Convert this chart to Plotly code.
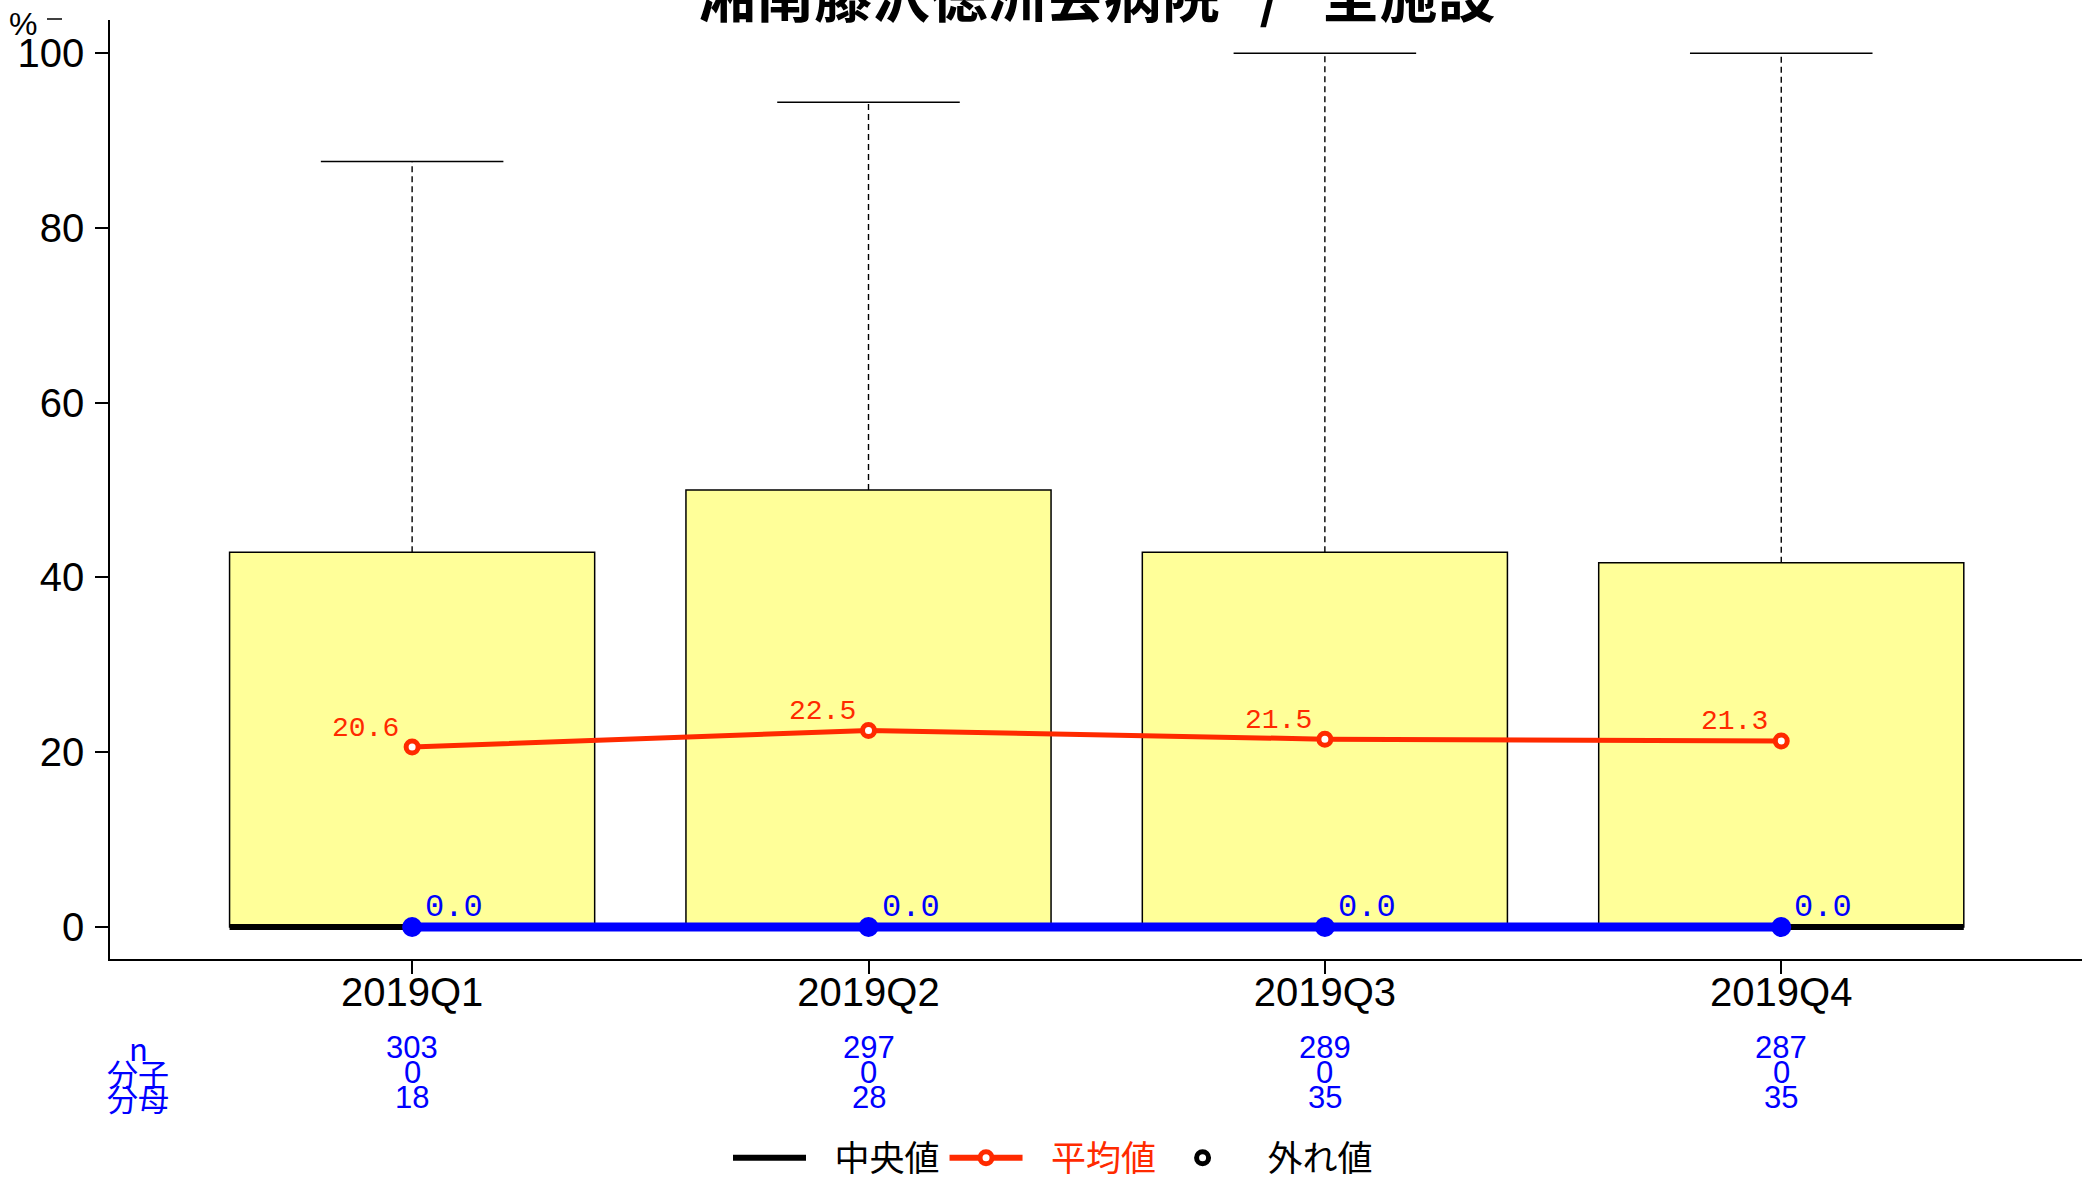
import plotly.graph_objects as go

# ---- data ----
categories = ["2019Q1", "2019Q2", "2019Q3", "2019Q4"]
box_q1 = [0, 0, 0, 0]
box_median = [0, 0, 0, 0]
box_q3 = [42.9, 50.0, 42.9, 41.7]
whisker_low = [0, 0, 0, 0]
whisker_high = [87.6, 94.4, 100, 100]
mean_values = [20.6, 22.5, 21.5, 21.3]
facility_values = [0.0, 0.0, 0.0, 0.0]
n_values = [303, 297, 289, 287]
numerators = [0, 0, 0, 0]
denominators = [18, 28, 35, 35]
y_ticks = [0, 20, 40, 60, 80, 100]
title_text = "湘南藤沢徳洲会病院&nbsp;&nbsp;&nbsp;/&nbsp;&nbsp;&nbsp;全施設"

W, H = 2089, 1180
ML, MR, MT, MB = 110, 7, 20, 221
PW, PH = W - ML - MR, H - MT - MB

def py(pix_y):
    return (H - MB - pix_y) / PH

def px(pix_x):
    return (pix_x - ML) / PW

SANS = "Liberation Sans, Arial, sans-serif"
MONO = "Liberation Mono, DejaVu Sans Mono, monospace"
CJK = "Noto Sans CJK JP, sans-serif"
RED = "#ff2a00"
BLUE = "#0000ff"

xs = list(range(len(categories)))
fig = go.Figure()

# boxes (whiskers drawn separately as dashed)
fig.add_trace(go.Box(
    x=xs, q1=box_q1, median=box_median, q3=box_q3,
    lowerfence=box_q1, upperfence=box_q3,
    width=0.8, whiskerwidth=0,
    fillcolor="#ffff99", line=dict(color="black", width=1.5),
    showlegend=False, hoverinfo="skip", boxpoints=False,
))

# dashed whiskers
wx, wy = [], []
for i in xs:
    wx += [i, i, None]
    wy += [box_q3[i], whisker_high[i], None]
fig.add_trace(go.Scatter(x=wx, y=wy, mode="lines",
                         line=dict(color="black", width=1.4, dash="6px,4px"),
                         showlegend=False, hoverinfo="skip"))
# caps
cx, cy = [], []
for i in xs:
    cx += [i - 0.2, i + 0.2, None]
    cy += [whisker_high[i], whisker_high[i], None]
fig.add_trace(go.Scatter(x=cx, y=cy, mode="lines",
                         line=dict(color="black", width=1.5),
                         showlegend=False, hoverinfo="skip"))
# medians (thick)
mx, my = [], []
for i in xs:
    mx += [i - 0.4, i + 0.4, None]
    my += [box_median[i], box_median[i], None]
fig.add_trace(go.Scatter(x=mx, y=my, mode="lines",
                         line=dict(color="black", width=6),
                         showlegend=False, hoverinfo="skip"))

# mean line
fig.add_trace(go.Scatter(
    x=xs, y=mean_values, mode="lines+markers",
    line=dict(color=RED, width=5),
    marker=dict(symbol="circle", size=12, color="white", line=dict(color=RED, width=5)),
    showlegend=False, hoverinfo="skip"))

# facility line
fig.add_trace(go.Scatter(
    x=xs, y=facility_values, mode="lines+markers",
    line=dict(color=BLUE, width=9),
    marker=dict(symbol="circle", size=20, color=BLUE),
    showlegend=False, hoverinfo="skip"))

# legend entries
NB = "&nbsp;"
fig.add_trace(go.Scatter(x=[None], y=[None], mode="lines", name=NB * 3 + "中央値",
                         line=dict(color="black", width=6)))
fig.add_trace(go.Scatter(x=[None], y=[None], mode="lines+markers",
                         name=NB * 3 + f"<span style='color:{RED}'>平均値</span>",
                         line=dict(color=RED, width=6),
                         marker=dict(symbol="circle", size=12, color="white",
                                     line=dict(color=RED, width=5))))
fig.add_trace(go.Scatter(x=[None], y=[None], mode="markers", name=NB * 3 + "外れ値",
                         marker=dict(symbol="circle", size=12, color="white",
                                     line=dict(color="black", width=5))))

annotations = []
# value labels
for i, v in enumerate(mean_values):
    annotations.append(dict(text=f"{v:.1f}", x=xs[i], y=v, xref="x", yref="y",
                            xanchor="right", yanchor="middle", xshift=-11, yshift=19,
                            showarrow=False, font=dict(family=MONO, size=28, color=RED)))
for i, v in enumerate(facility_values):
    annotations.append(dict(text=f"{v:.1f}", x=xs[i], y=v, xref="x", yref="y",
                            xanchor="left", yanchor="middle", xshift=11, yshift=20,
                            showarrow=False, font=dict(family=MONO, size=32, color=BLUE)))
# title
annotations.append(dict(text=f"<b>{title_text}</b>", x=0.5, y=1, xref="paper", yref="paper",
                        xanchor="center", yanchor="bottom", yshift=-16, showarrow=False,
                        font=dict(family=CJK, size=58, color="black")))
# % label
annotations.append(dict(text="%", x=px(23), y=py(24), xref="paper", yref="paper",
                        xanchor="center", yanchor="middle", showarrow=False,
                        font=dict(family=SANS, size=32, color="black")))
# row labels
row_y = [py(1047), py(1072), py(1097)]
for lab, yy in zip(["n", "分子", "分母"], row_y):
    annotations.append(dict(text=lab, x=px(138), y=yy, xref="paper", yref="paper",
                            xanchor="center", yanchor="middle", showarrow=False,
                            font=dict(family=CJK, size=31, color=BLUE)))
for row, yy in zip([n_values, numerators, denominators], row_y):
    for i, v in enumerate(row):
        annotations.append(dict(text=str(v), x=xs[i], y=yy, xref="x", yref="paper",
                                xanchor="center", yanchor="middle", showarrow=False,
                                font=dict(family=SANS, size=31, color=BLUE)))

fig.update_layout(
    width=W, height=H,
    margin=dict(l=ML, r=MR, t=MT, b=MB, autoexpand=False),
    plot_bgcolor="white", paper_bgcolor="white",
    annotations=annotations,
    shapes=[dict(type="line", xref="paper", yref="paper",
                 x0=px(47), x1=px(62), y0=py(19), y1=py(19),
                 line=dict(color="black", width=1.5))],
    xaxis=dict(range=[-0.662, 3.659], tickvals=xs, ticktext=categories,
               showline=True, linecolor="black", linewidth=1.5,
               ticks="outside", ticklen=13, tickwidth=1.5, tickcolor="black",
               showgrid=False, zeroline=False, automargin=False, ticklabelstandoff=-16,
               tickfont=dict(family=SANS, size=40, color="black")),
    yaxis=dict(range=[-3.66, 103.8], tickvals=y_ticks,
               showline=True, linecolor="black", linewidth=1.5,
               ticks="outside", ticklen=13, tickwidth=1.5, tickcolor="black",
               showgrid=False, zeroline=False, automargin=False, ticklabelstandoff=3,
               tickfont=dict(family=SANS, size=40, color="black")),
    legend=dict(orientation="h", x=px(1053), y=py(1158), xanchor="center", yanchor="middle",
                font=dict(family=CJK, size=35, color="black"), itemwidth=73,
                bgcolor="rgba(0,0,0,0)"),
)

fig.write_html("out.html", config={"displayModeBar": False},
               post_script="document.body.style.margin='0';document.body.style.overflow='hidden';")
